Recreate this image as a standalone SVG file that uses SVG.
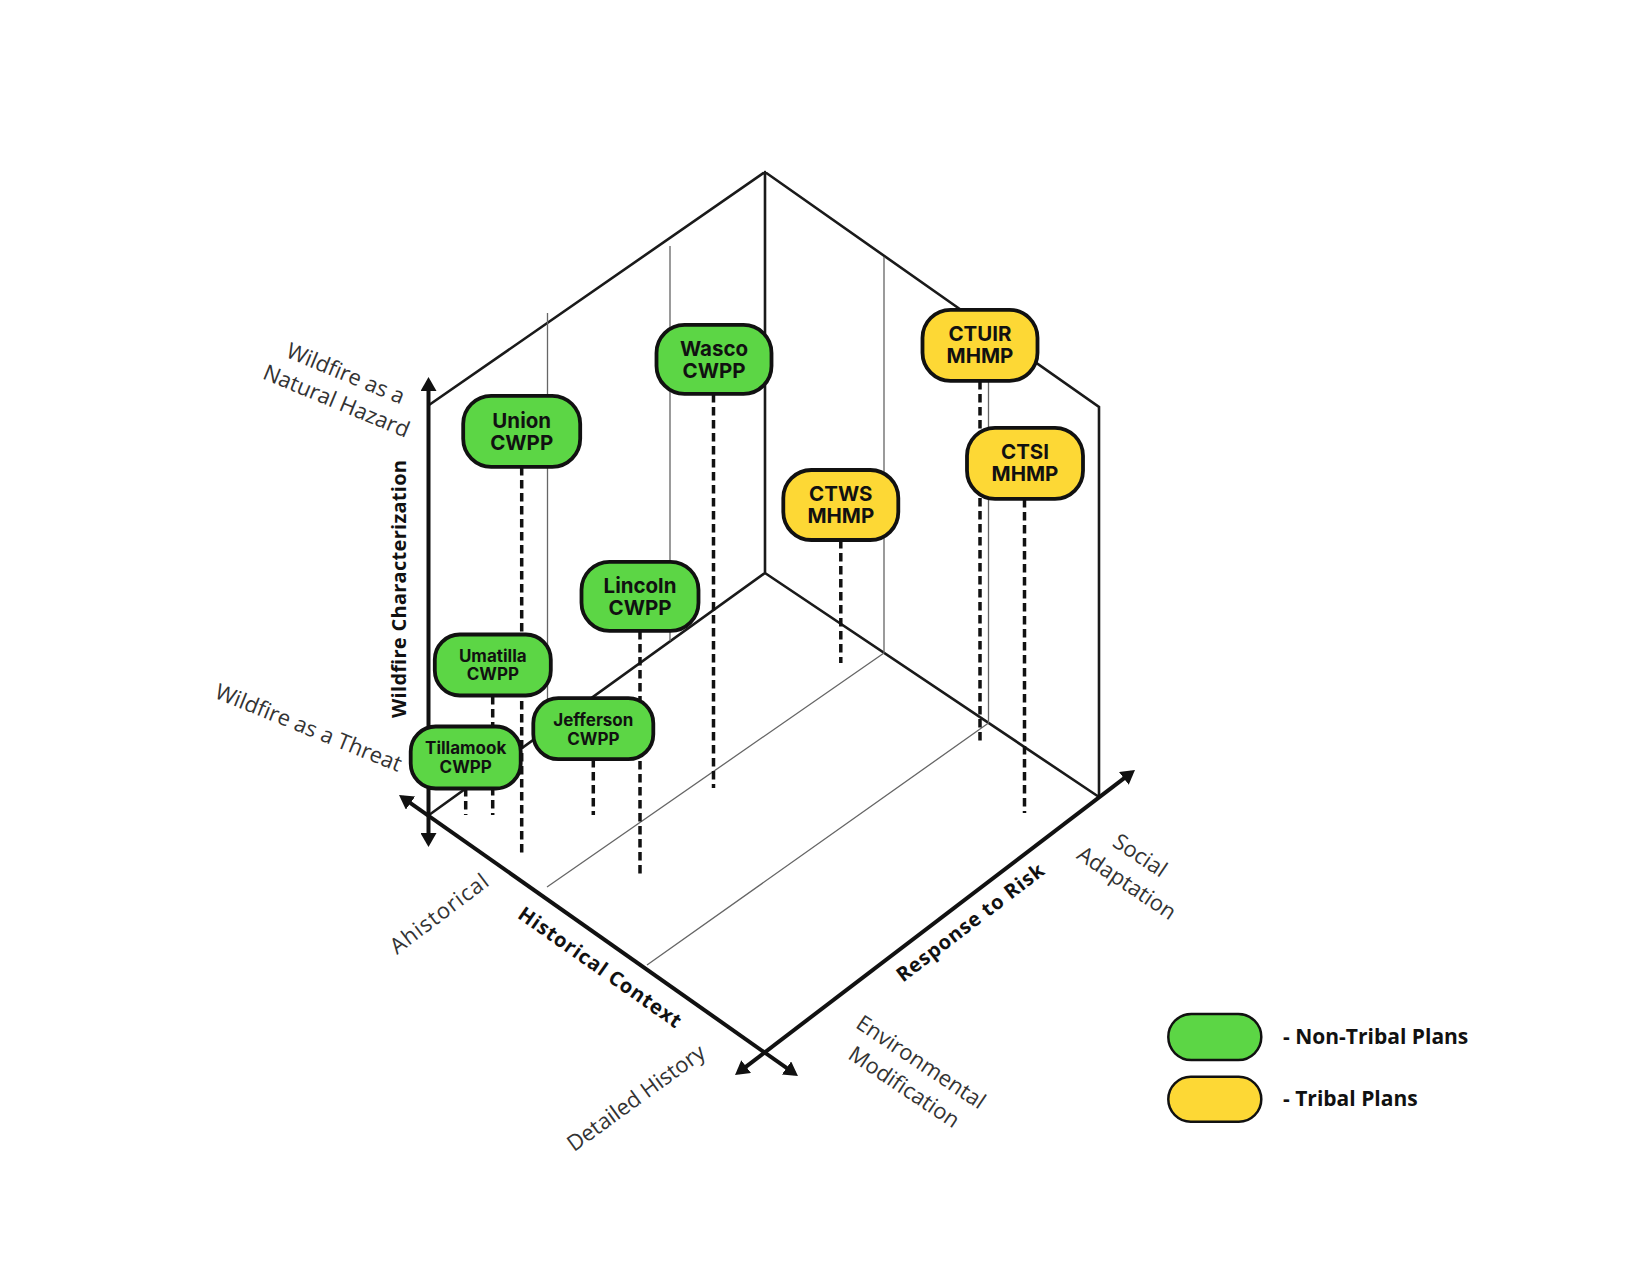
<svg xmlns="http://www.w3.org/2000/svg" width="1650" height="1275" viewBox="0 0 1650 1275">
<style>
.edge{stroke:#1a1a1a;stroke-width:2.6;fill:none;stroke-linecap:round}
.thin{stroke:#666;stroke-width:1.3;fill:none}
.axis{stroke:#111;stroke-width:4;fill:none}
.drop{stroke:#111;stroke-width:3.5;stroke-dasharray:8.5 4.5;fill:none}
.green rect{fill:#5cd645;stroke:#111;stroke-width:3.8}
.yellow rect{fill:#fdd835;stroke:#111;stroke-width:3.8}
.nl{font-family:Inter,"Liberation Sans",sans-serif;font-weight:700;font-size:20.5px;fill:#111;text-anchor:middle}
.ns{font-size:17px}
.lab{font-family:"Open Sans","Liberation Sans",sans-serif;font-size:22px;fill:#333;text-anchor:middle}
.bold{font-weight:700;fill:#111;font-size:20px}
.leg rect{stroke:#111;stroke-width:2.5}
.legt{font-family:"Open Sans","Liberation Sans",sans-serif;font-weight:700;font-size:21px;fill:#111}
</style>
<defs>
<marker id="ah" viewBox="0 0 14 16" refX="10" refY="8" markerWidth="14" markerHeight="16" markerUnits="userSpaceOnUse" orient="auto-start-reverse"><path d="M0,0 L14,8 L0,16 z" fill="#111"/></marker>
</defs>
<rect width="1650" height="1275" fill="#fff"/>
<g id="connectors">
<path class="edge" d="M429,405 L765,172 L1099,407 L1099,797 M765,172 L765,573 M429,815 L765,573 L1099,797"/>
<path class="thin" d="M547.5,313 L547.5,729 M670,246 L670,641 M884,257 L884,653 M988.5,330 L988.5,723 M884,653 L547,887 M988.5,723 L647,965"/>
<path class="drop" d="M521.7,467 L521.7,853 M713.5,394 L713.5,788 M980,381 L980,741 M1024.5,499 L1024.5,813 M840.8,540 L840.8,663 M640,631 L640,875 M492.7,696 L492.7,815 M593.3,759 L593.3,815 M465.7,788 L465.7,815"/>
<line class="axis" x1="428.5" y1="381" x2="428.5" y2="843" marker-start="url(#ah)" marker-end="url(#ah)"/>
<line class="axis" x1="402.3" y1="797.3" x2="794.7" y2="1073.7" marker-start="url(#ah)" marker-end="url(#ah)"/>
<line class="axis" x1="738.2" y1="1072.6" x2="1131.8" y2="772.4" marker-start="url(#ah)" marker-end="url(#ah)"/>
</g>
<g id="labels">
<text class="lab bold" transform="translate(406,589) rotate(-90)" textLength="258">Wildfire Characterization</text>
<text class="lab" transform="translate(342.7,380.5) rotate(22.5)">Wildfire as a</text>
<text class="lab" transform="translate(333.5,408) rotate(22.5)">Natural Hazard</text>
<text class="lab" transform="translate(305.7,734.7) rotate(22)" textLength="199">Wildfire as a Threat</text>
<text class="lab" transform="translate(443.6,919.8) rotate(-37)" textLength="117">Ahistorical</text>
<text class="lab bold" transform="translate(596,973) rotate(35)" textLength="194">Historical Context</text>
<text class="lab" transform="translate(640.4,1104) rotate(-36)">Detailed History</text>
<text class="lab" transform="translate(916.7,1068.3) rotate(33.7)">Environmental</text>
<text class="lab" transform="translate(900,1093.3) rotate(33.7)">Modification</text>
<text class="lab bold" transform="translate(974.4,928) rotate(-37.5)" textLength="180">Response to Risk</text>
<text class="lab" transform="translate(1135.9,861.7) rotate(33.7)">Social</text>
<text class="lab" transform="translate(1122.6,889.2) rotate(33.7)">Adaptation</text>
</g>
<g id="node-union" class="green"><rect x="463.2" y="395.8" width="117" height="71" rx="28"/><text class="nl"><tspan x="521.7" y="427.8">Union</tspan><tspan x="521.7" y="449.8">CWPP</tspan></text></g>
<g id="node-wasco" class="green"><rect x="656.5" y="324.9" width="115" height="69" rx="28"/><text class="nl"><tspan x="714" y="355.9">Wasco</tspan><tspan x="714" y="377.9">CWPP</tspan></text></g>
<g id="node-ctuir" class="yellow"><rect x="922.5" y="309.8" width="115" height="71" rx="28"/><text class="nl"><tspan x="980" y="341.3">CTUIR</tspan><tspan x="980" y="363.3">MHMP</tspan></text></g>
<g id="node-ctsi" class="yellow"><rect x="967" y="427.8" width="116" height="71" rx="28"/><text class="nl"><tspan x="1025" y="459.3">CTSI</tspan><tspan x="1025" y="481.3">MHMP</tspan></text></g>
<g id="node-ctws" class="yellow"><rect x="783.3" y="470" width="115" height="70" rx="28"/><text class="nl"><tspan x="840.8" y="501">CTWS</tspan><tspan x="840.8" y="523">MHMP</tspan></text></g>
<g id="node-lincoln" class="green"><rect x="581.5" y="561.8" width="117" height="69" rx="28"/><text class="nl"><tspan x="640" y="592.8">Lincoln</tspan><tspan x="640" y="614.8">CWPP</tspan></text></g>
<g id="node-umatilla" class="green"><rect x="434.8" y="634.5" width="116" height="61" rx="25"/><text class="nl ns"><tspan x="492.8" y="662">Umatilla</tspan><tspan x="492.8" y="680">CWPP</tspan></text></g>
<g id="node-jefferson" class="green"><rect x="533.3" y="698.2" width="120" height="61" rx="25"/><text class="nl ns"><tspan x="593.3" y="725.7">Jefferson</tspan><tspan x="593.3" y="744.7">CWPP</tspan></text></g>
<g id="node-tillamook" class="green"><rect x="410.7" y="726.5" width="110" height="62" rx="25"/><text class="nl ns"><tspan x="465.7" y="754">Tillamook</tspan><tspan x="465.7" y="773">CWPP</tspan></text></g>
<g id="legend" class="leg">
<rect x="1168.3" y="1014" width="93" height="46" rx="23" fill="#5cd645"/>
<rect x="1168.3" y="1076.7" width="93" height="45" rx="22.5" fill="#fdd835"/>
<text class="legt" x="1283" y="1044">- Non-Tribal Plans</text>
<text class="legt" x="1283" y="1106">- Tribal Plans</text>
</g>
</svg>
